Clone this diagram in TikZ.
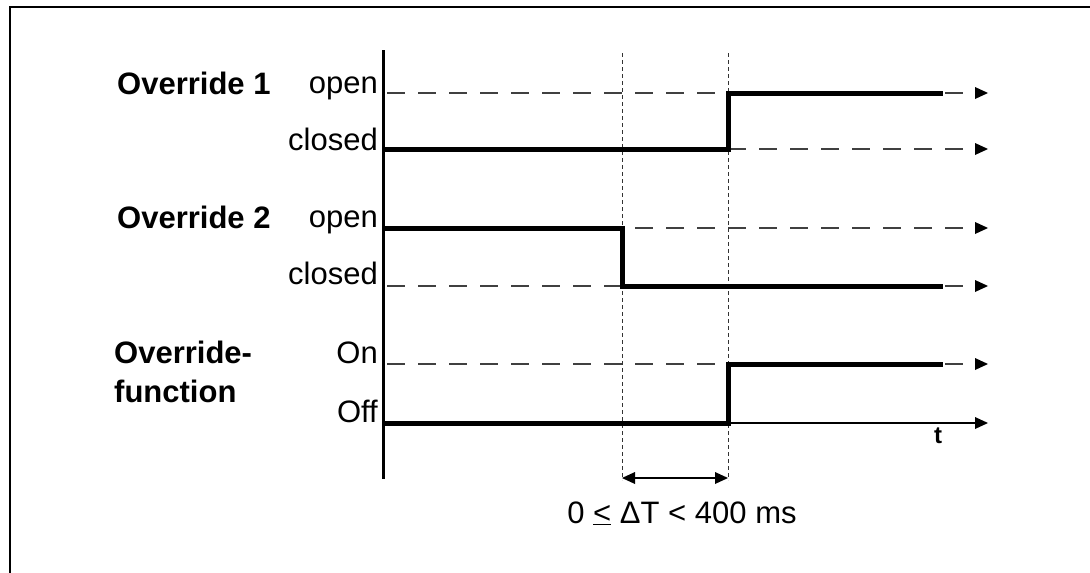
\documentclass[tikz,border=0pt]{standalone}
\usepackage{fontspec}
\setmainfont{Liberation Sans}
\usetikzlibrary{arrows.meta}

\tikzset{
    signal/.style={black, line width=5pt, line join=miter},
    level/.style={black!75, line width=1.3pt, dash pattern=on 18pt off 13pt, -{Triangle[length=13pt,width=12pt,line width=0pt,black]}},
    guide/.style={black!80, line width=1pt, dash pattern=on 4pt off 3pt},
    lbl/.style={font=\fontsize{31}{35}\selectfont, anchor=base east, inner sep=0pt},
    title/.style={font=\fontsize{31}{39}\selectfont\bfseries, anchor=base west, inner sep=0pt, align=left},
}

\begin{document}
\begin{tikzpicture}[x=1pt, y=-1pt]
        \fill[white] (0,0) rectangle (1090,573);
        \useasboundingbox (0,0) rectangle (1090,573);
        \draw[black, line width=1.5pt] (10,573) -- (10,7) -- (1090,7);

        % signal names
        \node[title] (name1) at (117,94) {Override 1};
        \node[title] (name2) at (117,228) {Override 2};
        \node[title, anchor=north west] (name3) at (114,341) {Override-\\function};

        % level labels
        \node[lbl] (open1) at (378,93) {open};
        \node[lbl] (closed1) at (378,150) {closed};
        \node[lbl] (open2) at (378,227) {open};
        \node[lbl] (closed2) at (378,284) {closed};
        \node[lbl] (on) at (378,363) {On};
        \node[lbl] (off) at (378,422) {Off};

        % level lines
        \draw[level] (387,93) -- (988,93);
        \draw[level] (387,149) -- (988,149);
        \draw[level] (387,228) -- (988,228);
        \draw[level] (387,286) -- (988,286);
        \draw[level] (387,364) -- (988,364);
        \draw[black, line width=1.3pt, -{Triangle[length=13pt,width=12pt,line width=0pt]}] (386,423) -- (988,423);
        \node[font=\fontsize{24}{28}\selectfont\bfseries, anchor=base, inner sep=0pt] (t) at (938,443) {t};

        % event markers
        \draw[guide] (622,53) -- (622,480);
        \draw[guide] (728,53) -- (728,480);

        % axis
        \draw[black, line width=3pt] (383,50) -- (383,479);

        % signals
        \draw[signal] (385,149) -- (728,149) -- (728,93) -- (943,93);
        \draw[signal] (385,228) -- (622,228) -- (622,286) -- (943,286);
        \draw[signal] (385,423) -- (728,423) -- (728,364) -- (943,364);

        % delay
        \draw[black, line width=1.5pt, {Triangle[length=13pt,width=12pt,line width=0pt]}-{Triangle[length=13pt,width=12pt,line width=0pt]}] (622,478) -- (728,478);
        \node[font=\fontsize{31}{35}\selectfont, anchor=base, inner sep=0pt] (delay) at (682,523) {0 \underline{<} ΔT < 400 ms};
    \end{tikzpicture}
\end{document}
